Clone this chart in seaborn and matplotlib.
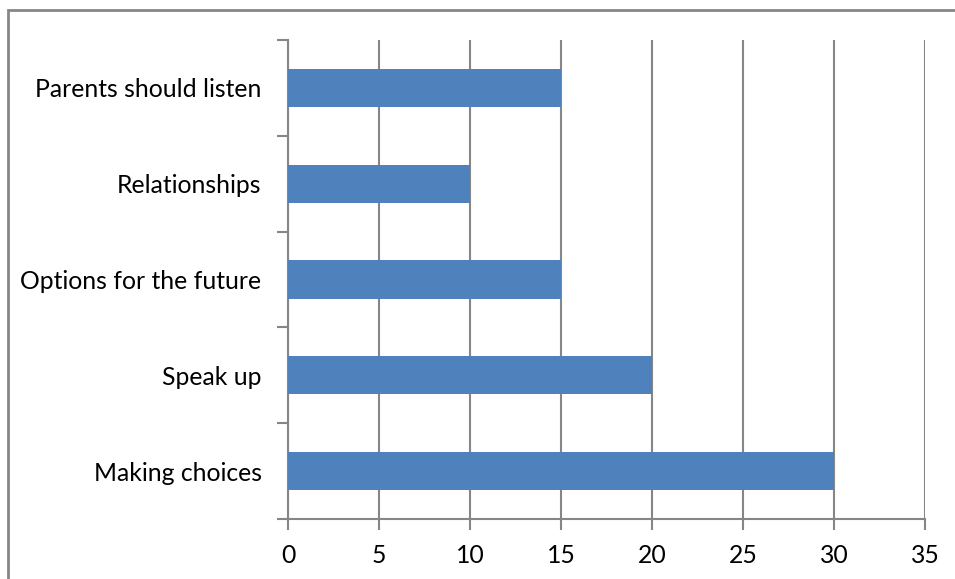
import matplotlib
matplotlib.use("Agg")
import matplotlib.pyplot as plt
import seaborn as sns
import pandas as pd
from matplotlib.patches import Rectangle

categories = ["Parents should listen", "Relationships", "Options for the future", "Speak up", "Making choices"]
values = [15, 10, 15, 20, 30]
xticks = [0, 5, 10, 15, 20, 25, 30, 35]

sns.set_style("white")
plt.rcParams['font.family'] = ['Lato', 'DejaVu Sans']

df = pd.DataFrame({"cat": categories, "val": values})

fig = plt.figure(figsize=(9.55, 5.79), dpi=100)
ax = fig.add_axes([288/955, 60/579, (925-288)/955, (519-40)/579])

grey = "#868686"
sns.barplot(data=df, x="val", y="cat", orient="h", color="#4F81BD", width=0.4,
            saturation=1, ax=ax, zorder=3, edgecolor="none", linewidth=0)

ax.set_xlim(0, 35)
ax.set_ylim(4.5, -0.5)
ax.set_xticks(xticks)
ax.set_xticklabels([str(t) for t in xticks])
ax.set_xlabel("")
ax.set_ylabel("")
ax.xaxis.grid(True, color=grey, linewidth=1.5, zorder=0)
ax.yaxis.grid(False)
ax.set_axisbelow(True)

for s in ["top", "right"]:
    ax.spines[s].set_visible(False)
for s in ["left", "bottom"]:
    ax.spines[s].set_color(grey)
    ax.spines[s].set_linewidth(1.5)

ax.tick_params(axis="x", direction="out", length=8, width=1.5, color=grey,
               labelsize=17.8, pad=10, bottom=True, labelcolor="black")
ax.tick_params(axis="y", which="major", length=0, labelsize=17.8, pad=19,
               labelcolor="black")
ax.set_yticks([-0.5, 0.5, 1.5, 2.5, 3.5, 4.5], minor=True)
ax.tick_params(axis="y", which="minor", direction="out", length=8, width=1.5,
               color=grey, left=True)

fig.patches.append(Rectangle((7.5/955, -0.1), 1.2, (579-10)/579 + 0.1,
                             transform=fig.transFigure, fill=False,
                             edgecolor=grey, linewidth=2))

fig.savefig("out.png", dpi=100)
